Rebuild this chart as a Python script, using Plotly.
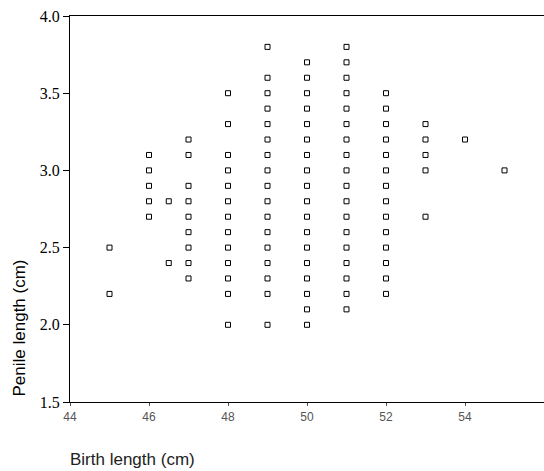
import plotly.graph_objects as go

# Penile length (cm) observed at each birth length (cm)
birth_45 = [2.5, 2.2]
birth_46 = [3.1, 3.0, 2.9, 2.8, 2.7]
birth_46_5 = [2.8, 2.4]
birth_47 = [3.2, 3.1, 2.9, 2.8, 2.7, 2.6, 2.5, 2.4, 2.3]
birth_48 = [3.5, 3.3, 3.1, 3.0, 2.9, 2.8, 2.7, 2.6, 2.5, 2.4, 2.3, 2.2, 2.0]
birth_49 = [3.8, 3.6, 3.5, 3.4, 3.3, 3.2, 3.1, 3.0, 2.9, 2.8, 2.7, 2.6, 2.5, 2.4, 2.3, 2.2, 2.0]
birth_50 = [3.7, 3.6, 3.5, 3.4, 3.3, 3.2, 3.1, 3.0, 2.9, 2.8, 2.7, 2.6, 2.5, 2.4, 2.3, 2.2, 2.1, 2.0]
birth_51 = [3.8, 3.7, 3.6, 3.5, 3.4, 3.3, 3.2, 3.1, 3.0, 2.9, 2.8, 2.7, 2.6, 2.5, 2.4, 2.3, 2.2, 2.1]
birth_52 = [3.5, 3.4, 3.3, 3.2, 3.1, 3.0, 2.9, 2.8, 2.7, 2.6, 2.5, 2.4, 2.3, 2.2]
birth_53 = [3.3, 3.2, 3.1, 3.0, 2.7]
birth_54 = [3.2]
birth_55 = [3.0]

columns = [
    (45, birth_45), (46, birth_46), (46.5, birth_46_5), (47, birth_47),
    (48, birth_48), (49, birth_49), (50, birth_50), (51, birth_51),
    (52, birth_52), (53, birth_53), (54, birth_54), (55, birth_55),
]

x_ticks = [44, 46, 48, 50, 52, 54, 56]
y_ticks = [1.5, 2.0, 2.5, 3.0, 3.5, 4.0]

xs, ys = [], []
for bl, vals in columns:
    for v in vals:
        xs.append(bl)
        ys.append(v)

fig = go.Figure()
fig.add_trace(go.Scatter(
    x=xs, y=ys, mode="markers",
    marker=dict(symbol="square-open", size=5, color="black", line=dict(width=1, color="black")),
    showlegend=False, hoverinfo="x+y",
))

fig.update_layout(
    width=544, height=471,
    margin=dict(l=70, r=0, t=16, b=69),
    plot_bgcolor="white", paper_bgcolor="white",
    xaxis=dict(
        range=[44, 56], tickvals=x_ticks, ticktext=[str(t) for t in x_ticks],
        showgrid=False, zeroline=False,
        showline=True, linecolor="black", linewidth=1.2, mirror=True,
        ticks="outside", ticklen=3, tickcolor="#555", tickwidth=1,
        tickfont=dict(family="Liberation Sans, Arial, sans-serif", size=12, color="#555"),
        automargin=False,
    ),
    yaxis=dict(
        range=[1.5, 4.0], tickvals=y_ticks, ticktext=[f"{t:.1f}" for t in y_ticks],
        showgrid=False, zeroline=False,
        showline=True, linecolor="black", linewidth=1.2,
        ticks="outside", ticklen=6, tickcolor="black", tickwidth=1,
        tickfont=dict(family="Liberation Serif, Times New Roman, serif", size=16, color="black"),
        automargin=False,
    ),
    annotations=[
        dict(text="Penile length (cm)", xref="paper", yref="paper",
             x=-0.1055, y=0.193, xanchor="center", yanchor="middle",
             textangle=-90, showarrow=False,
             font=dict(family="Liberation Sans, Arial, sans-serif", size=17, color="black")),
        dict(text="Birth length (cm)", xref="paper", yref="paper",
             x=-0.004, y=-0.1788, xanchor="left", yanchor="bottom",
             showarrow=False,
             font=dict(family="Liberation Sans, Arial, sans-serif", size=17, color="#222")),
    ],
)

fig.write_html(
    "out.html",
    config={"displayModeBar": False},
    post_script="document.body.style.margin='0';document.body.style.overflow='hidden';",
)
